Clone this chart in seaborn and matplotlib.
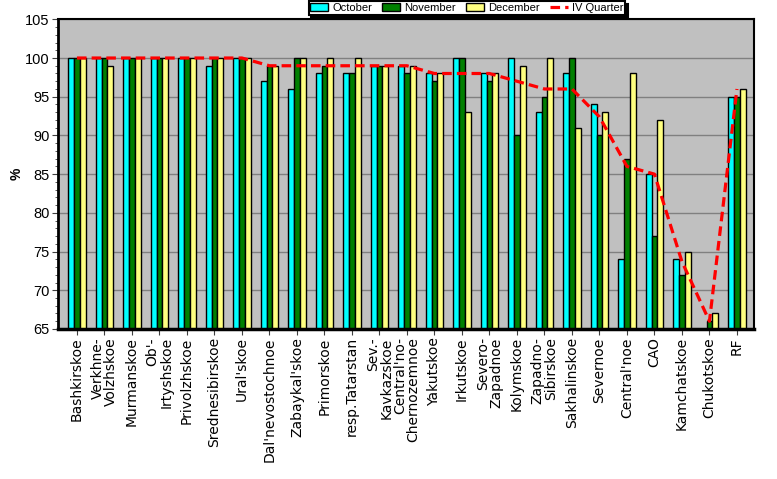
import numpy as np
import pandas as pd
import matplotlib
matplotlib.use("Agg")
import matplotlib.pyplot as plt
from matplotlib.ticker import MultipleLocator
import seaborn as sns

regions = ["Bashkirskoe", "Verkhne-\nVolzhskoe", "Murmanskoe", "Ob'-\nIrtyshskoe",
           "Privolzhskoe", "Srednesibirskoe", "Ural'skoe", "Dal'nevostochnoe",
           "Zabaykal'skoe", "Primorskoe", "resp.Tatarstan", "Sev.-\nKavkazskoe",
           "Central'no-\nChernozemnoe", "Yakutskoe", "Irkutskoe", "Severo-\nZapadnoe",
           "Kolymskoe", "Zapadno-\nSibirskoe", "Sakhalinskoe", "Severnoe",
           "Central'noe", "CAO", "Kamchatskoe", "Chukotskoe", "RF"]
october = [100, 100, 100, 100, 100, 99, 100, 97, 96, 98, 98, 99, 99, 98, 100, 98,
           100, 93, 98, 94, 74, 85, 74, 65, 95]
november = [100, 100, 100, 100, 100, 100, 100, 99, 100, 99, 98, 99, 98, 97, 100, 97,
            90, 95, 100, 90, 87, 77, 72, 66, 95]
december = [100, 99, 100, 100, 100, 100, 100, 99, 100, 100, 100, 99, 99, 98, 93, 98,
            99, 100, 91, 93, 98, 92, 75, 67, 96]
q4 = [100, 100, 100, 100, 100, 100, 100, 99, 99, 99, 99, 99, 99, 98, 98, 98,
      97, 96, 96, 92.4, 86, 85, 73.7, 66, 96]
months = ["October", "November", "December"]
colors = ["#00FFFF", "#008000", "#FFFF80"]

n = len(regions)
df = pd.DataFrame({
    "region": regions * 3,
    "value": october + november + december,
    "month": [months[0]] * n + [months[1]] * n + [months[2]] * n,
})

fig, ax = plt.subplots(figsize=(7.77, 4.79), dpi=100)
fig.subplots_adjust(left=0.0746, right=0.9704, top=0.9597, bottom=0.3132)
ax.set_facecolor("#C0C0C0")

sns.barplot(data=df, x="region", y="value", hue="month", palette=colors,
            saturation=1, width=0.64, gap=0, edgecolor="black", linewidth=1,
            errorbar=None, ax=ax)
sns.lineplot(x=np.arange(n), y=q4, color="#FF0000", linewidth=2.3,
             linestyle=(0, (3, 1.6)), ax=ax, label="IV Quarter", zorder=4)

ax.set_ylim(65, 105)
ax.set_xlim(-0.69, 24.62)
ax.yaxis.set_major_locator(MultipleLocator(5))
ax.yaxis.set_minor_locator(MultipleLocator(1))
ax.set_axisbelow(True)
ax.yaxis.grid(True, which="major", color="#808080", linewidth=1)
ax.xaxis.grid(False)

ax.set_xticks(range(n))
ax.set_xticklabels(regions, rotation=90, ha="center", va="top",
                   multialignment="right", fontsize=10, family="DejaVu Sans",
                   linespacing=0.95)
ax.tick_params(axis="x", length=4, pad=2, color="#404040")
ax.tick_params(axis="y", which="major", length=4, pad=2, labelsize=10.5, color="#404040")
ax.tick_params(axis="y", which="minor", length=2.5, color="#404040")
for t in ax.get_yticklabels():
    t.set_family("Liberation Sans")

ax.set_xlabel("")
ax.set_ylabel("%", fontweight="bold", fontsize=10, family="Liberation Sans", labelpad=1)

for s in ["top", "right"]:
    ax.spines[s].set_linewidth(1.5)
ax.spines["left"].set_linewidth(2)
ax.spines["bottom"].set_linewidth(2.5)

handles, labels = ax.get_legend_handles_labels()
if ax.get_legend() is not None:
    ax.get_legend().remove()
leg = fig.legend(handles, labels, loc="upper center", bbox_to_anchor=(0.601, 1.0),
                 ncol=4, frameon=True, fancybox=False, edgecolor="black",
                 framealpha=1, shadow={"color": "black", "alpha": 1},
                 prop={"family": "Liberation Sans", "size": 8},
                 handlelength=1.6, handleheight=0.8, columnspacing=0.9,
                 borderpad=0.15, handletextpad=0.4, borderaxespad=0.1)
leg.get_frame().set_linewidth(1.5)

fig.savefig("out.png", dpi=100)
